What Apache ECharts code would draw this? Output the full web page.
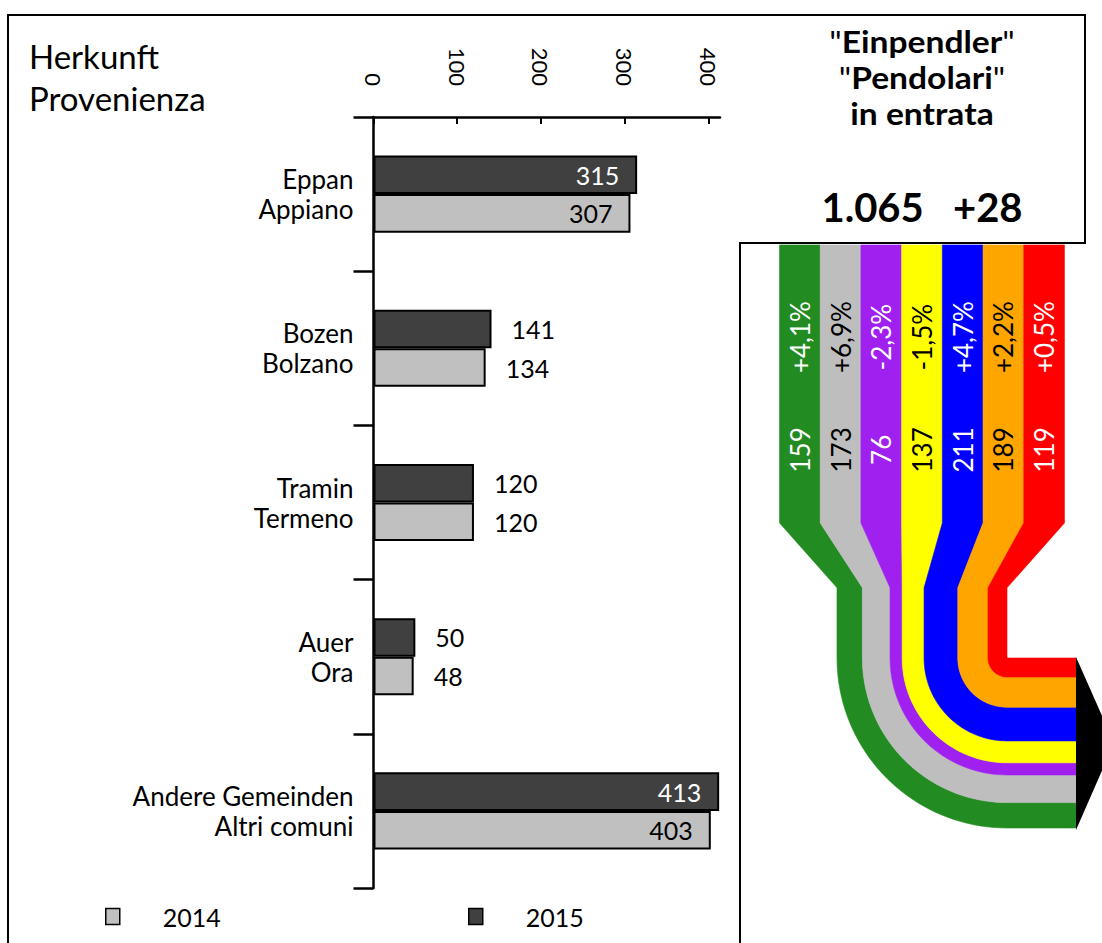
<!DOCTYPE html>
<html>
<head>
<meta charset="utf-8">
<script src="https://cdn.jsdelivr.net/npm/echarts@6/dist/echarts.min.js"></script>
<style>
  html, body { margin: 0; padding: 0; background: #fff; }
  #chart { width: 1102px; height: 943px; }
</style>
</head>
<body>
<div id="chart"></div>
<script>
// Origin municipalities of incoming commuters
const origins = ['Eppan\nAppiano', 'Bozen\nBolzano', 'Tramin\nTermeno', 'Auer\nOra', 'Andere Gemeinden\nAltri comuni'];
const commuters2014 = [307, 134, 120, 48, 403];
const commuters2015 = [315, 141, 120, 50, 413];
const valueTicks = [0, 100, 200, 300, 400];

// Incoming commuters by group, with change against the previous year (%)
const groupValues = [159, 173, 76, 137, 211, 189, 119];
const groupChanges = [4.1, 6.9, -2.3, -1.5, 4.7, 2.2, 0.5];

// Headline figures
const totalCommuters = 1065;
const totalChange = 28;

// ---- styling ----
const FONT = 'Lato, "Open Sans", sans-serif';
const groupColors = ['#228B22', '#BEBEBE', '#A020F0', '#FFFF00', '#0000FF', '#FFA500', '#FF0000'];
const groupTextColors = ['#fff', '#000', '#fff', '#000', '#fff', '#000', '#fff'];
const WIDE_BAND = 40.7;     // width of each band before it narrows (px)
const TAIL = 69;            // horizontal run after the bend (px)
const ARROW_LEN = 38;       // arrow head length (px)
const STAGE = { taper0: 0.673, taper1: 0.83, pct: 0.223, val: 0.496 };

const cumStarts = [];
let acc = 0;
groupValues.forEach(v => { cumStarts.push(acc); acc += v; });
const groupSum = acc;

function fmtChange(v) {
  return (v > 0 ? '+' : '') + v.toFixed(1).replace('.', ',') + '%';
}

function barLabel(v, darkFill) {
  if (v > 200) {
    return { value: v, label: { position: 'insideRight', distance: 18, color: darkFill ? '#fff' : '#000' } };
  }
  return { value: v, label: { position: 'right', distance: 20, color: '#000' } };
}

function renderBand(params, api) {
  const i = api.value(3);
  const start = api.value(0);
  const val = api.value(1);
  const cs = params.coordSys;
  const xl = api.coord([start, 0])[0];
  const xr = api.coord([start + val, 0])[0];
  const yTop = api.coord([0, 0])[1];
  const yT0 = api.coord([0, STAGE.taper0])[1];
  const yT1 = api.coord([0, STAGE.taper1])[1];
  const pivot = api.coord([groupSum, 1]);
  const cx = pivot[0], cy = pivot[1];
  const midX = cs.x + cs.width / 2;
  const n = groupValues.length;
  const wl = midX - WIDE_BAND * n / 2 + i * WIDE_BAND;
  const wr = wl + WIDE_BAND;
  const rIn = cx - xr, rOut = cx - xl;
  const tailX = cx + TAIL;
  const N = 40;
  const pts = [[wl, yTop], [wr, yTop], [wr, yT0], [xr, yT1], [xr, cy]];
  for (let k = 1; k <= N; k++) {
    const a = Math.PI - (Math.PI / 2) * k / N;
    pts.push([cx + rIn * Math.cos(a), cy + rIn * Math.sin(a)]);
  }
  pts.push([tailX, cy + rIn]);
  pts.push([tailX, cy + rOut]);
  for (let k = 0; k <= N; k++) {
    const a = Math.PI / 2 + (Math.PI / 2) * k / N;
    pts.push([cx + rOut * Math.cos(a), cy + rOut * Math.sin(a)]);
  }
  pts.push([xl, yT1]);
  pts.push([wl, yT0]);
  const color = groupColors[i];
  const tx = (wl + wr) / 2;
  const textStyle = (t) => ({
    text: t, fill: groupTextColors[i], font: '26px ' + FONT,
    align: 'center', verticalAlign: 'middle'
  });
  return {
    type: 'group',
    children: [
      { type: 'polygon', shape: { points: pts }, style: { fill: color, stroke: color, lineWidth: 0.6 } },
      { type: 'text', x: tx, y: api.coord([0, STAGE.pct])[1], rotation: Math.PI / 2, style: textStyle(fmtChange(api.value(2))) },
      { type: 'text', x: tx, y: api.coord([0, STAGE.val])[1], rotation: Math.PI / 2, style: textStyle(String(val)) }
    ]
  };
}

function renderArrow(params, api) {
  const pivot = api.coord([groupSum, 1]);
  const r = pivot[0] - api.coord([0, 1])[0];
  const bx = pivot[0] + TAIL;
  return {
    type: 'polygon',
    shape: { points: [[bx, pivot[1] - 1], [bx + ARROW_LEN, pivot[1] + r / 2], [bx, pivot[1] + r + 2]] },
    style: { fill: '#000' }
  };
}

const chart = echarts.init(document.getElementById('chart'), null, { renderer: 'svg' });

const legendBase = {
  top: 904, padding: 0, itemWidth: 14, itemHeight: 16, icon: 'rect',
  itemStyle: { borderWidth: 1.5 },
  textStyle: { fontSize: 25, color: '#000', fontFamily: FONT, padding: [0, 0, 0, 38] }
};

const headStyle = { fontSize: 30, fontFamily: FONT, lineHeight: 36, fill: '#000' };

chart.setOption({
  animation: false,
  backgroundColor: '#fff',
  textStyle: { fontFamily: FONT },
  grid: [
    { left: 373.5, right: 382, top: 117, bottom: 55 },
    { left: 837, right: 95, top: 245, bottom: 285 }
  ],
  legend: [
    Object.assign({ data: ['2014'], left: 105 }, legendBase),
    Object.assign({ data: ['2015'], left: 468 }, legendBase)
  ],
  xAxis: [
    {
      gridIndex: 0, type: 'value', position: 'top', min: 0, max: 414,
      splitLine: { show: false },
      axisLine: { show: true, lineStyle: { color: '#000', width: 2.5 } },
      axisTick: { show: true, inside: true, length: 7, lineStyle: { color: '#000', width: 2 }, customValues: valueTicks },
      axisLabel: { rotate: 90, margin: 31, fontSize: 22, color: '#000', fontFamily: FONT, customValues: valueTicks }
    },
    { gridIndex: 1, type: 'value', min: 0, max: groupSum, show: false }
  ],
  yAxis: [
    {
      gridIndex: 0, type: 'category', data: origins, inverse: true,
      axisLine: { show: true, lineStyle: { color: '#000', width: 2.5 } },
      axisTick: { show: true, length: 20, lineStyle: { color: '#000', width: 2.5 } },
      axisLabel: { fontSize: 26, lineHeight: 30, color: '#000', margin: 20, fontFamily: FONT, align: 'right', padding: [0, 0, 4, 0] }
    },
    { gridIndex: 1, type: 'value', min: 0, max: 1, inverse: true, show: false }
  ],
  series: [
    {
      name: '2015', type: 'bar', xAxisIndex: 0, yAxisIndex: 0,
      barCategoryGap: '50%', barGap: '0%',
      itemStyle: { color: '#404040', borderColor: '#000', borderWidth: 2 },
      label: { show: true, fontSize: 25, fontFamily: FONT },
      data: commuters2015.map(v => barLabel(v, true))
    },
    {
      name: '2014', type: 'bar', xAxisIndex: 0, yAxisIndex: 0,
      barCategoryGap: '50%', barGap: '0%',
      itemStyle: { color: '#C0C0C0', borderColor: '#000', borderWidth: 2 },
      label: { show: true, fontSize: 25, fontFamily: FONT },
      data: commuters2014.map(v => barLabel(v, false))
    },
    {
      type: 'custom', xAxisIndex: 1, yAxisIndex: 1, clip: false, silent: true,
      renderItem: renderBand,
      encode: { x: 0, y: 1 },
      data: groupValues.map((v, i) => [cumStarts[i], v, groupChanges[i], i])
    },
    {
      type: 'custom', xAxisIndex: 1, yAxisIndex: 1, clip: false, silent: true,
      renderItem: renderArrow,
      data: [[groupSum, 1]]
    }
  ],
  graphic: [
    {
      type: 'polyline', silent: true,
      shape: { points: [[8, 943], [8, 15], [1085, 15], [1085, 243], [740, 243], [740, 943]] },
      style: { stroke: '#000', lineWidth: 2, fill: null }
    },
    { type: 'text', left: 29, top: 35, style: { text: 'Herkunft\nProvenienza', font: '33px ' + FONT, lineHeight: 42, fill: '#000' } },
    {
      type: 'text', x: 922, y: 78, scaleX: 1.12,
      style: {
        text: '{n|"}{b|Einpendler}{n|"}\n{n|"}{b|Pendolari}{n|"}\n{b|in entrata}',
        fill: '#000', align: 'center', verticalAlign: 'middle',
        rich: {
          n: headStyle,
          b: Object.assign({ fontWeight: 'bold' }, headStyle)
        }
      }
    },
    {
      type: 'text', x: 922, y: 207,
      style: { text: totalCommuters.toLocaleString('de-DE') + '   +' + totalChange, font: 'bold 40px ' + FONT, fill: '#000', align: 'center', verticalAlign: 'middle' }
    }
  ]
});
</script>
</body>
</html>
